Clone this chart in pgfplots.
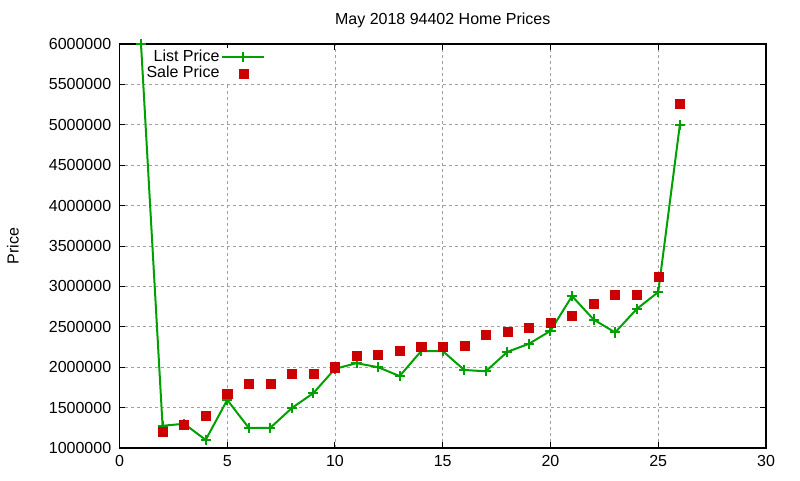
\documentclass[border=0pt]{standalone}
\usepackage{fontspec}
\setmainfont{Liberation Sans}
\usepackage{pgfplots}
\pgfplotsset{compat=1.18}
\definecolor{lpgreen}{RGB}{0,160,0}
\definecolor{spred}{RGB}{204,0,0}
\definecolor{gridgray}{RGB}{160,160,160}
\begin{document}
\fontsize{12}{14}\selectfont
\begin{tikzpicture}
\useasboundingbox (-89.6pt,-24pt) rectangle (510.4pt,336pt);
\begin{axis}[
  at={(0,0)}, anchor=south west,
  scale only axis,
  width=484.9pt, height=303pt,
  xmin=0, xmax=30, ymin=1000000, ymax=6000000,
  xtick={0,5,10,15,20,25,30},
  ytick={1000000,1500000,2000000,2500000,3000000,3500000,4000000,4500000,5000000,5500000,6000000},
  yticklabels={1000000,1500000,2000000,2500000,3000000,3500000,4000000,4500000,5000000,5500000,6000000},
  /pgf/number format/assume math mode=true,
  scaled y ticks=false,
  tick align=inside,
  major tick length=4.5pt,
  tick style={black, line width=0.75pt},
  axis line style={line width=0.9pt},
  grid=major,
  major grid style={gridgray, line width=0.6pt, dash pattern=on 2pt off 2.5pt},
  title={May 2018 94402 Home Prices},
  title style={at={(0.5,1)}, anchor=base, yshift=8.5pt, font=\fontsize{12}{14}\selectfont},
  ylabel={Price},
  every axis y label/.style={at={(axis description cs:0,0.5)}, xshift=-80pt, rotate=90, anchor=center, font=\fontsize{12}{14}\selectfont},
  xticklabel style={font=\fontsize{12}{14}\selectfont, yshift=-1.2pt},
  yticklabel style={font=\fontsize{12}{14}\selectfont, xshift=-2pt},
  clip=false,
  legend plot pos=right,
  legend cell align=right,
  legend style={at={(axis cs:1.15,6000000)}, anchor=north west, yshift=-2.5pt, draw=none, fill=white,
    inner sep=0pt, row sep=-1pt, nodes={inner sep=1.5pt}, font=\fontsize{12}{14}\selectfont},
]
\addplot[lpgreen, line width=1.5pt, mark=+, mark size=3.8pt,
  legend image code/.code={\draw[mark repeat=2,mark phase=2] plot coordinates {(0cm,0cm) (0.55cm,0cm) (1.1cm,0cm)};}]
  coordinates {
  (1,6000000) (2,1275000) (3,1300000) (4,1100000) (5,1595000) (6,1250000)
  (7,1250000) (8,1495000) (9,1680000) (10,1980000) (11,2050000) (12,2000000)
  (13,1890000) (14,2200000) (15,2200000) (16,1965000) (17,1950000) (18,2190000)
  (19,2290000) (20,2450000) (21,2880000) (22,2590000) (23,2430000) (24,2720000)
  (25,2930000) (26,4995000)
  };
\addlegendentry{List Price}
\addplot[only marks, mark=square*, mark size=3.4pt, mark options={spred, fill=spred, line width=0.3pt},
  legend image code/.code={\draw[only marks] plot coordinates {(0.55cm,0cm)};}]
  coordinates {
  (2,1200000) (3,1285000) (4,1400000) (5,1670000) (6,1800000) (7,1800000)
  (8,1920000) (9,1920000) (10,2000000) (11,2140000) (12,2150000) (13,2200000)
  (14,2250000) (15,2250000) (16,2270000) (17,2400000) (18,2440000) (19,2490000)
  (20,2550000) (21,2640000) (22,2790000) (23,2900000) (24,2900000) (25,3120000)
  (26,5260000)
  };
\addlegendentry{Sale Price}
\end{axis}
\end{tikzpicture}
\end{document}
